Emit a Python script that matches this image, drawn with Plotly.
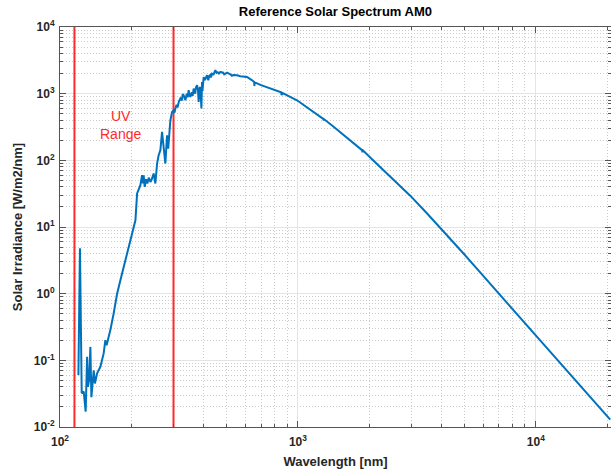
import plotly.graph_objects as go

# AM0 reference spectrum, wavelength [nm] and irradiance [W/m2/nm]
wavelength_nm = [
    119.5, 121.3, 123.4, 125.8, 128.2, 130.0, 131.0, 132.5, 134.2, 135.5,
    138.6, 140.2, 143.2, 147.8, 152.6, 155.1, 157.0, 162.8, 168.1, 173.8,
    179.4, 185.2, 191.4, 197.6, 203.0, 207.5, 210.9, 213.0, 217.7, 221.3,
    223.0, 224.7, 227.0, 230.0, 233.0, 236.0, 239.9, 243.0, 247.6, 251.7,
    255.9, 259.8, 264.2, 268.5, 272.0, 277.2, 281.8, 285.0, 291.0, 295.8,
    300.0, 303.0, 305.4, 309.0, 312.0, 316.0, 320.6, 325.0, 328.0, 331.0,
    336.5, 341.0, 344.0, 347.4, 350.0, 353.2, 358.0, 361.0, 364.6, 367.0,
    370.0, 373.0, 376.7, 380.0, 382.6, 386.0, 389.0, 393.0, 395.4, 397.0,
    401.8, 405.0, 408.0, 412.0, 415.0, 420.0, 424.0, 428.0, 431.0, 435.5,
    442.0, 449.8, 455.0, 460.0, 466.0, 472.0, 485.0, 490.0, 503.7, 520.0,
    528.0, 535.0, 554.7, 572.8, 590.0, 611.0, 640.0, 655.0, 656.3, 658.0,
    700.0, 760.0, 850.0, 854.0, 860.0, 991.0, 1100.0, 1200.0, 1282.0, 1285.0,
    1290.0, 1400.0, 1507.0, 1650.0, 1829.0, 1860.0, 1870.0, 1880.0, 2080.0, 2400.0,
    2966.0, 3500.0, 3966.0, 5000.0, 6000.0, 7081.0, 8500.0, 10000.0, 12500.0, 15000.0,
    17500.0, 20550.0,
]
irradiance = [
    0.060, 4.8, 0.032, 0.034, 0.017, 0.113, 0.040, 0.050, 0.159, 0.028,
    0.071, 0.045, 0.064, 0.080, 0.127, 0.201, 0.169, 0.284, 0.505, 1.0,
    1.59, 2.52, 4.0, 6.3, 9.5, 12.6, 31.8, 35.0, 42.4, 59.8,
    45.0, 59.8, 40.0, 52.0, 45.0, 55.0, 47.4, 52.0, 63.4, 44.9,
    89.5, 119.0, 142.0, 267.0, 180.0, 89.5, 238.0, 150.0, 399.0, 532.0,
    560.0, 520.0, 598.0, 680.0, 620.0, 760.0, 845.0, 790.0, 980.0, 946.0,
    796.0, 1000.0, 880.0, 1125.0, 960.0, 893.0, 1050.0, 930.0, 1191.0, 1080.0,
    1000.0, 1250.0, 1337.0, 1150.0, 752.0, 1200.0, 1262.0, 598.0, 1497.0, 1100.0,
    1778.0, 1600.0, 1650.0, 1820.0, 1888.0, 1589.0, 1850.0, 1900.0, 1750.0, 2000.0,
    1950.0, 2244.0, 2050.0, 2100.0, 2000.0, 2115.0, 2060.0, 1950.0, 2070.0, 1950.0,
    1860.0, 1900.0, 1888.0, 1824.0, 1800.0, 1778.0, 1600.0, 1500.0, 1300.0, 1480.0,
    1340.0, 1200.0, 1050.0, 950.0, 1030.0, 796.0, 619.0, 496.0, 416.0, 395.0,
    412.0, 327.0, 265.0, 203.0, 148.0, 142.0, 132.0, 140.0, 98.7, 60.0,
    29.5, 15.8, 9.8, 3.9, 1.86, 0.95, 0.455, 0.24, 0.098, 0.0465,
    0.025, 0.0129,
]

# UV band limits [nm]
uv_bounds = [115, 300]

x_major = [100, 1000, 10000]
x_major_text = ["10<sup>2</sup>", "10<sup>3</sup>", "10<sup>4</sup>"]
y_major = [1e-2, 1e-1, 1e0, 1e1, 1e2, 1e3, 1e4]
y_major_text = ["10<sup>-2</sup>", "10<sup>-1</sup>", "10<sup>0</sup>", "10<sup>1</sup>",
                "10<sup>2</sup>", "10<sup>3</sup>", "10<sup>4</sup>"]
x_minor = [m * d for d in (100, 1000, 10000) for m in range(2, 10)]
y_minor = [m * d for d in (1e-2, 1e-1, 1e0, 1e1, 1e2, 1e3) for m in range(2, 10)]

y_lim = [1e-2, 1e4]

fig = go.Figure()

for xb in uv_bounds:
    fig.add_trace(go.Scatter(x=[xb, xb], y=y_lim, mode="lines",
                             line=dict(color="#ff2a2a", width=2), showlegend=False,
                             hoverinfo="skip"))

fig.add_trace(go.Scatter(x=wavelength_nm, y=irradiance, mode="lines",
                         line=dict(color="#0072BD", width=2), showlegend=False))

fig.add_annotation(x=2.254, y=2.53, xref="x", yref="y", text="UV<br>Range",
                   showarrow=False,
                   font=dict(family="Liberation Sans", size=14, color="#ff2a2a"))

minor_grid = dict(tickmode="array", ticks="inside", ticklen=3, tickcolor="#555555",
                  showgrid=True, gridcolor="#cccccc", griddash="1px,2px", gridwidth=1)

axis_common = dict(
    type="log", showline=True, linecolor="#555555", linewidth=1, mirror="ticks",
    ticks="inside", ticklen=6, tickcolor="#555555", tickmode="array",
    showgrid=True, gridcolor="#e4e4e4", gridwidth=1, zeroline=False,
    tickfont=dict(family="Liberation Sans", size=12, color="#262626", weight="bold"),
)

fig.update_xaxes(
    **axis_common, range=[2, 4.316], tickvals=x_major, ticktext=x_major_text,
    ticklabelstandoff=4,
    minor=dict(**minor_grid, tickvals=x_minor),
    title=dict(text="Wavelength [nm]", standoff=8,
               font=dict(family="Liberation Sans", size=13, color="#262626", weight="bold")),
)
fig.update_yaxes(
    **axis_common, range=[-2, 4], tickvals=y_major, ticktext=y_major_text,
    ticklabelstandoff=2,
    minor=dict(**minor_grid, tickvals=y_minor),
    title=dict(text="Solar Irradiance [W/m2/nm]", standoff=8,
               font=dict(family="Liberation Sans", size=13, color="#262626", weight="bold")),
)

fig.update_layout(
    width=611, height=472,
    margin=dict(l=60, r=0, t=27, b=45),
    plot_bgcolor="white", paper_bgcolor="white",
    title=dict(text="Reference Solar Spectrum AM0", x=0.549, xanchor="center", y=0.985,
               yanchor="top",
               font=dict(family="Liberation Sans", size=13, color="black", weight="bold")),
)

fig.write_html("out.html")
